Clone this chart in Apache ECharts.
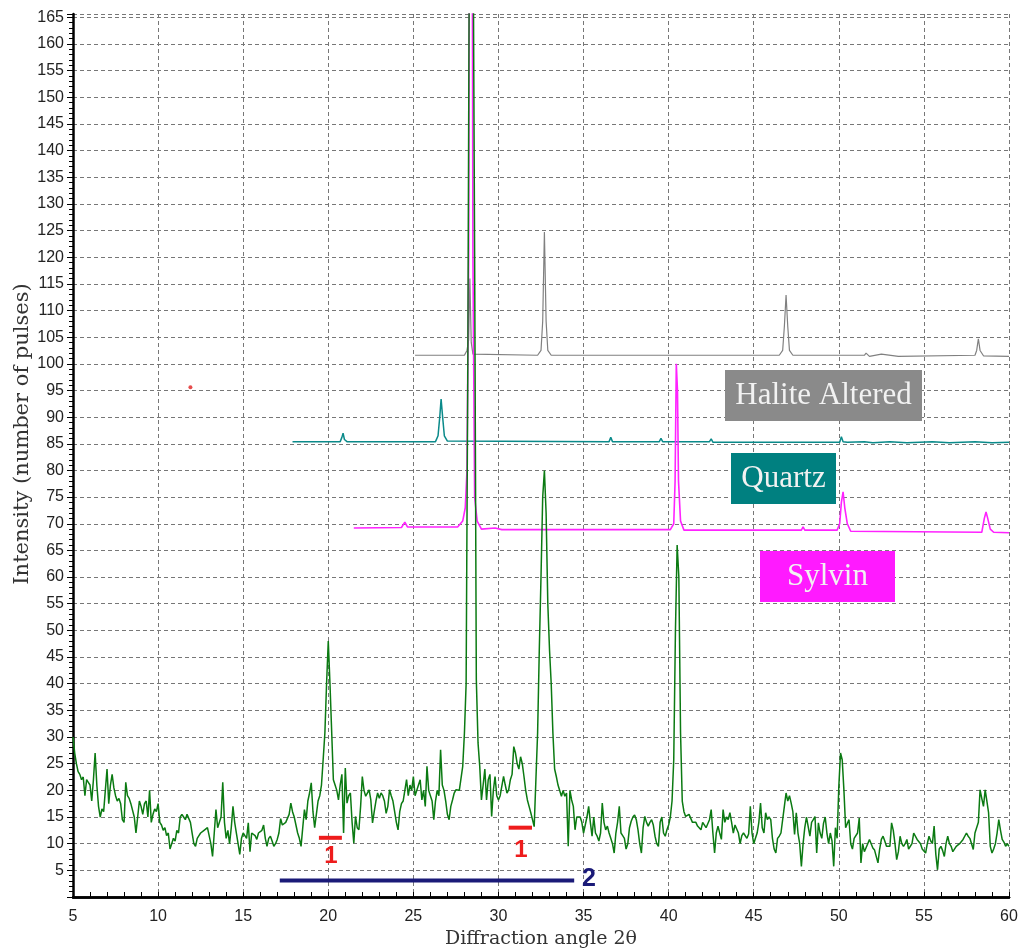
<!DOCTYPE html>
<html>
<head>
<meta charset="utf-8">
<script src="https://cdn.jsdelivr.net/npm/echarts@6/dist/echarts.min.js"></script>
<style>
  html, body { margin: 0; padding: 0; background: #fff; }
  #chart { width: 1032px; height: 951px; }
</style>
</head>
<body>
<div id="chart"></div>
<script>
// measured sample: intensity every 0.1 deg from 5.0 to 60.0
const sampleStart = 5.0
const sampleStep = 0.1
const sampleIntensity = [
  30, 27, 25, 23.5, 23, 22, 22.5, 19, 22, 21.5,
  21, 18, 22, 27, 21, 17, 15, 16.5, 16, 20,
  24, 17.5, 21, 23, 20.5, 19, 18, 18.5, 17.5, 14.5,
  14, 21.5, 19, 18.5, 17.5, 17.5, 15, 12, 15, 18,
  17, 15.5, 17.5, 18, 15, 20, 14, 15.5, 16.5, 16,
  17.5, 14, 13.5, 12.5, 13, 11.5, 12, 9, 10, 11,
  10.5, 12.5, 12, 15, 15.5, 15, 14.5, 15.5, 15.8, 14,
  12, 10, 9.5, 11, 11.5, 12, 12, 12.5, 12.5, 13,
  13.3, 10, 7.6, 12, 16.4, 13, 13, 15, 21.5, 14,
  11, 12.5, 10, 13, 17, 14, 12, 10, 8, 11,
  12, 11.5, 11, 13.9, 8.5, 12, 12, 11.5, 10.8, 12,
  12, 12.5, 13.5, 11, 9.5, 11, 11.4, 10.5, 9.5, 10,
  10.8, 12, 14.7, 13.5, 13.5, 14, 14, 15.5, 17.6, 16,
  15, 13.5, 12, 11, 9.5, 13, 16.4, 14.5, 18, 19.5,
  21.4, 16, 13, 15.5, 18, 19, 21, 25.8, 30.7, 40,
  48, 40, 31, 22, 21, 20, 18.2, 21, 23, 12,
  24.2, 17.6, 19, 19.5, 14, 10.1, 15.1, 13, 12.6, 17,
  22.6, 20, 18.9, 19, 20.1, 18.2, 13.9, 16, 18, 19.5,
  18.5, 19.5, 19, 18, 15.7, 17, 20.1, 19, 18, 16,
  14, 12.6, 16, 17.5, 18, 20, 22, 19, 21, 20,
  22.6, 19, 18.9, 21, 22, 18.2, 20, 17, 24.5, 20,
  19, 18, 14.5, 18, 20, 19, 27.6, 21, 20, 18,
  15.5, 14.5, 17, 18.2, 19.5, 20.1, 20, 20, 20.1, 24.5,
  30.7, 40, 100, 190, 200, 190, 120, 40.7, 28.9, 24.5,
  18.2, 21, 24, 18.2, 22, 23, 15.1, 20, 22.6, 19,
  18.2, 19, 18.8, 22.6, 21, 19.5, 20.1, 22, 23, 28.2,
  27, 25, 24, 26.3, 25, 22.6, 20, 18.2, 17, 15.8,
  14.5, 13.2, 22, 30.7, 46.4, 60, 75, 80, 72, 55,
  46.4, 40, 30.7, 24, 22.6, 21, 20.8, 18.9, 20, 18.9,
  19.5, 9.5, 20, 18.2, 17, 12.6, 15, 15.2, 15, 14,
  12, 13.5, 15, 17, 14, 11.4, 15, 12, 11.4, 10.5,
  12, 17.6, 14, 12.6, 13.3, 12, 11, 10, 8.25, 12,
  14, 17, 12, 11.5, 11, 9, 10, 13, 14.2, 15,
  15.4, 14.5, 12.6, 10, 8.25, 13, 15.1, 14, 13.3, 14,
  14.5, 13.5, 11.4, 10, 9.5, 14, 15, 12, 11.4, 12.6,
  13.5, 15, 18, 25.75, 50, 66, 60, 30.75, 18, 16,
  15.1, 15, 15.5, 15.4, 14, 13.9, 14, 13.3, 13, 12.6,
  14, 13.9, 13, 13.3, 14.5, 16.4, 12, 8.25, 12, 13.3,
  12, 10.8, 16.4, 14, 15, 14.5, 15.8, 14, 12, 13.5,
  13.3, 12, 10, 11.5, 12, 12, 11, 11.8, 17, 12,
  10, 11, 12, 14, 17.6, 13, 12, 15.8, 14.5, 15,
  14.5, 11, 9, 8.25, 11, 11.4, 12, 12, 17, 19.5,
  18, 19, 17.6, 16, 11.75, 15.8, 12, 10, 5.75, 10,
  13, 15, 15.1, 11.4, 14, 14.5, 15.1, 8.25, 13.9, 12,
  11, 13.8, 15, 12, 10, 12, 10.5, 5.75, 13, 11,
  20.75, 27, 25.75, 20, 13, 13.8, 14.5, 10, 9, 11,
  10.8, 12, 14.8, 6.4, 10, 8.5, 8.25, 10, 10.8, 10,
  9.2, 8.8, 8.5, 6.4, 9, 10.8, 11.4, 10.5, 9.5, 9.5,
  9.5, 13.9, 12.5, 10, 7, 8.5, 11.4, 10, 9.5, 10,
  10.8, 9, 8.9, 10, 12, 12.3, 10.8, 11, 10, 9,
  8.9, 8.25, 10, 11.4, 10.5, 10, 13.3, 8, 5.1, 9,
  9.5, 8.7, 7.6, 10, 11.4, 10, 9.5, 8.5, 8.25, 9.5,
  9.5, 10, 10.1, 10.8, 11, 12, 11.4, 11, 10, 8.9,
  12, 12, 14, 20.1, 18.5, 17, 20.1, 18, 15.8, 9.5,
  8.25, 9, 10, 12, 14.5, 12.5, 10.8, 10.3, 9.5, 10,
  9.5
]

// reference patterns [2theta, intensity], shifted up on the plot
const sylvin = [
  [21.5, 69.2], [24.3, 69.3], [24.5, 70.3], [24.65, 69.4], [27.6, 69.4], [27.9, 70.5],
  [28.05, 73], [28.15, 80], [28.25, 120], [28.3, 200], [28.45, 200], [28.5, 120],
  [28.6, 75], [28.75, 70.5], [29.0, 69], [29.8, 69.2], [30.2, 68.9], [35, 68.9],
  [40.1, 68.9], [40.3, 70], [40.38, 78], [40.45, 100], [40.52, 95], [40.58, 78],
  [40.7, 70.5], [40.9, 68.8], [47.8, 68.8], [47.9, 69.4], [48.0, 68.8], [49.9, 68.8],
  [50.05, 70], [50.15, 74], [50.25, 76], [50.35, 73], [50.5, 70], [50.7, 68.6],
  [58.4, 68.4], [58.55, 71], [58.65, 72.2], [58.75, 71], [58.9, 69], [59.1, 68.4], [60, 68.3]
]
const quartz = [
  [17.9, 85.4], [20.7, 85.4], [20.8, 86.2], [20.87, 87], [20.95, 85.8], [21.1, 85.4],
  [26.3, 85.4], [26.45, 86.5], [26.55, 90], [26.63, 93.4], [26.72, 90], [26.82, 86.5],
  [27.0, 85.5], [36.5, 85.4], [36.6, 86.2], [36.7, 85.4], [39.45, 85.4], [39.55, 86],
  [39.65, 85.4], [42.4, 85.4], [42.5, 85.9], [42.6, 85.3], [50.05, 85.3], [50.15, 86.3],
  [50.25, 85.4], [50.5, 85.3], [51.5, 85.4], [52, 85.2], [53, 85.4], [54, 85.2],
  [55.5, 85.4], [56.5, 85.2], [58, 85.4], [59, 85.2], [60, 85.3]
]
const haliteAltered = [
  [25.1, 101.6], [28.0, 101.6], [28.15, 102.5], [28.25, 104.5], [28.32, 116], [28.4, 104],
  [28.5, 101.8], [32.3, 101.6], [32.5, 102.5], [32.6, 108], [32.7, 124.7], [32.8, 108],
  [32.9, 102.5], [33.1, 101.6], [46.5, 101.6], [46.7, 102.5], [46.8, 107], [46.9, 112.9],
  [47.0, 107], [47.1, 102.5], [47.3, 101.6], [51.5, 101.6], [51.6, 102], [51.8, 101.4],
  [52.5, 101.8], [53.5, 101.4], [58.0, 101.6], [58.1, 102.5], [58.2, 104.7], [58.3, 102.5],
  [58.5, 101.5], [60, 101.4]
]

// annotation marks
const zone1a = [[19.45, 11.1], [20.8, 11.1]]
const zone1b = [[30.6, 13.0], [31.97, 13.0]]
const zone2 = [[17.15, 3.1], [34.45, 3.1]]
const strayDot = [[11.9, 95.6]]

const sample = sampleIntensity.map((v, i) => [+(sampleStart + i * sampleStep).toFixed(1), v])

const chart = echarts.init(document.getElementById('chart'))

const lineSeries = (data, color, width) => ({
  type: 'line',
  data,
  showSymbol: false,
  symbol: 'none',
  animation: false,
  lineStyle: { color, width },
  z: 3,
})

const box = (x, y, w, h, fill, text) => [
  { type: 'rect', shape: { x, y, width: w, height: h }, style: { fill }, z: 10 },
  {
    type: 'text', x: x + w / 2, y: y + h / 2, z: 11,
    style: {
      text, fill: '#f2f2f2', font: '31px "Liberation Serif", serif',
      align: 'center', verticalAlign: 'middle',
    },
  },
]

chart.setOption({
  animation: false,
  grid: { left: 73, right: 23, top: 14, bottom: 54, outerBoundsMode: 'none', containLabel: false },
  xAxis: [
    {
      type: 'value',
      min: 5,
      max: 60,
      interval: 5,
      name: 'Diffraction angle 2θ',
      nameLocation: 'middle',
      nameGap: 32,
      nameTextStyle: { fontFamily: 'DejaVu Serif', fontSize: 19, color: '#333' },
      axisLine: { onZero: false, lineStyle: { color: '#000', width: 2.5 } },
      axisTick: { inside: true, length: 5, lineStyle: { color: '#000' } },
      minorTick: { show: true, splitNumber: 5, length: 5, lineStyle: { color: '#000' } },
      axisLabel: { color: '#222', fontSize: 16, fontFamily: 'Liberation Sans', margin: 12 },
      splitLine: { show: true, lineStyle: { color: '#777', type: [4, 3], width: 1 } },
    },
    {
      type: 'value',
      position: 'top',
      min: 5,
      max: 60,
      axisLine: { show: true, lineStyle: { color: '#000', width: 2.5 } },
      axisTick: { show: false },
      axisLabel: { show: false },
      splitLine: { show: false },
    },
  ],
  yAxis: {
    type: 'value',
    min: 0,
    max: 165.6,
    interval: 5,
    axisLine: { show: true, lineStyle: { color: '#000', width: 2.5 } },
    axisTick: { show: true, length: 6, lineStyle: { color: '#000' } },
    minorTick: { show: true, splitNumber: 5, length: 4, lineStyle: { color: '#000' } },
    axisLabel: {
      color: '#222', fontSize: 16, fontFamily: 'Liberation Sans', margin: 9,
      formatter: v => (v > 0 && v % 5 === 0 ? String(v) : ''),
    },
    splitLine: { show: true, lineStyle: { color: '#777', type: [4, 3], width: 1 } },
  },
  series: [
    lineSeries(haliteAltered, '#808080', 1.2),
    lineSeries(quartz, '#0a8a8a', 1.5),
    lineSeries(sylvin, '#ff22ff', 1.6),
    lineSeries(sample, '#0b7a12', 1.5),
    { ...lineSeries(zone1a, '#ee1c1c', 4), z: 5 },
    { ...lineSeries(zone1b, '#ee1c1c', 4), z: 5 },
    { ...lineSeries(zone2, '#1a1a78', 4), z: 5 },
    {
      type: 'scatter', data: strayDot, symbolSize: 4, animation: false,
      itemStyle: { color: '#e02020' },
    },
  ],
  graphic: [
    {
      type: 'text', x: 23, y: 434, rotation: Math.PI / 2,
      style: {
        text: 'Intensity (number of pulses)', fill: '#333',
        font: '21px "DejaVu Serif", serif', align: 'center', verticalAlign: 'middle',
      },
    },
    ...box(725, 370, 197, 51, '#8a8a8a', 'Halite Altered'),
    ...box(731, 453, 105, 51, '#008080', 'Quartz'),
    ...box(760, 551, 135, 51, '#ff1aff', 'Sylvin'),
    {
      type: 'text', x: 331, y: 856, z: 12,
      style: { text: '1', fill: '#ee1c1c', font: 'bold 24px "Liberation Sans", sans-serif', align: 'center', verticalAlign: 'middle' },
    },
    {
      type: 'text', x: 521, y: 850, z: 12,
      style: { text: '1', fill: '#ee1c1c', font: 'bold 24px "Liberation Sans", sans-serif', align: 'center', verticalAlign: 'middle' },
    },
    {
      type: 'text', x: 589, y: 879, z: 12,
      style: { text: '2', fill: '#1a1a78', font: 'bold 25px "Liberation Sans", sans-serif', align: 'center', verticalAlign: 'middle' },
    },
  ],
})
</script>
</body>
</html>
